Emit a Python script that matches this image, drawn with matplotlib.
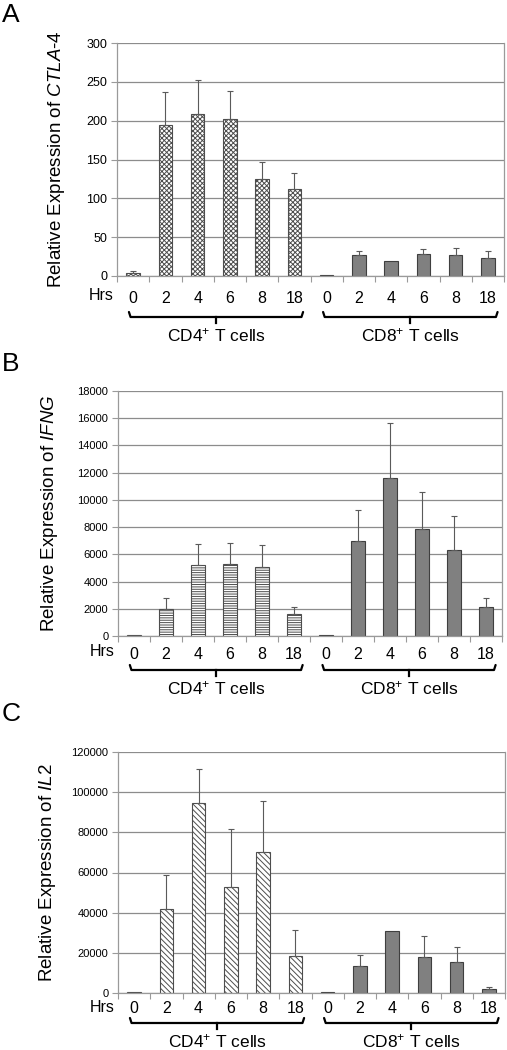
"""Time course of CTLA-4, IFNG and IL2 expression in CD4+ and CD8+ T cells."""

import numpy as np
import matplotlib
matplotlib.use("Agg")
import matplotlib.pyplot as plt
import matplotlib.transforms as mtransforms

plt.rcParams["font.family"] = ["Liberation Sans", "DejaVu Sans"]
plt.rcParams["mathtext.fontset"] = "custom"
plt.rcParams["mathtext.rm"] = "Liberation Sans"
plt.rcParams["mathtext.it"] = "Liberation Sans:italic"
plt.rcParams["hatch.linewidth"] = 0.7

HOURS = ["0", "2", "4", "6", "8", "18"]
GROUPS = ["CD4$^{+}$ T cells", "CD8$^{+}$ T cells"]

# panel A: CTLA-4
ctla4_cd4 = [4, 195, 208, 202, 125, 112]
ctla4_cd4_sd = [2, 42, 44, 36, 22, 21]
ctla4_cd8 = [1.3, 26.5, 19, 28, 26.5, 23]
ctla4_cd8_sd = [0, 6, 0, 7, 10, 9]

# panel B: IFNG
ifng_cd4 = [50, 1980, 5230, 5320, 5100, 1610]
ifng_cd4_sd = [0, 800, 1540, 1490, 1610, 490]
ifng_cd8 = [50, 6960, 11600, 7870, 6330, 2100]
ifng_cd8_sd = [0, 2300, 4030, 2690, 2470, 690]

# panel C: IL2
il2_cd4 = [400, 41800, 94800, 53000, 70000, 18200]
il2_cd4_sd = [0, 17000, 16500, 28500, 25500, 13000]
il2_cd8 = [300, 13600, 30700, 17900, 15200, 2000]
il2_cd8_sd = [0, 5400, 0, 10300, 7700, 1000]

PANELS = [
    ("A", "CTLA", "-4", ctla4_cd4, ctla4_cd4_sd, ctla4_cd8, ctla4_cd8_sd, 300, 50, "x" * 7),
    ("B", "IFNG", "", ifng_cd4, ifng_cd4_sd, ifng_cd8, ifng_cd8_sd, 18000, 2000, "-" * 7),
    ("C", "IL2", "", il2_cd4, il2_cd4_sd, il2_cd8, il2_cd8_sd, 120000, 20000, "\\" * 6),
]

# axes boxes in pixels (left, top, right, bottom) of a 507x1050 canvas
BOXES = [(117, 43, 504, 276), (118, 391, 502, 636), (118, 752, 505, 993)]
LETTER_Y = [3, 352, 702]
HRS_DY = [19, 16, 14]
BRACKET_DY = [41, 34, 30]
YLABEL_X = [67, 60, 58]
TICK_SIZE = [9, 8, 8]

W, H = 507, 1050
fig = plt.figure(figsize=(W / 100, H / 100), dpi=100)

GRID = "#8c8c8c"
EDGE = "#4d4d4d"

for i, (letter, gene, suffix, cd4, cd4_sd, cd8, cd8_sd, ymax, ystep, hatch) in enumerate(PANELS):
    l, t, r, b = BOXES[i]
    ax = fig.add_axes([l / W, 1 - b / H, (r - l) / W, (b - t) / H])
    ax_h = b - t

    x = np.arange(12)
    vals = np.array(cd4 + cd8, dtype=float)
    sds = np.array(cd4_sd + cd8_sd, dtype=float)

    ax.bar(x[:6], cd4, width=0.42, facecolor="white", edgecolor=EDGE,
           hatch=hatch, linewidth=0.8, zorder=2)
    ax.bar(x[6:], cd8, width=0.42, facecolor="#808080", edgecolor="#3f3f3f",
           linewidth=0.8, zorder=2)

    has_err = sds > 0
    ax.errorbar(x[has_err], vals[has_err],
                yerr=[np.zeros(has_err.sum()), sds[has_err]],
                fmt="none", ecolor="#5a5a5a", elinewidth=0.8, capsize=2.5,
                capthick=0.8, zorder=3)

    ax.set_xlim(-0.5, 11.5)
    ax.set_ylim(0, ymax)
    ax.set_yticks(np.arange(0, ymax + ystep / 2, ystep))
    ax.yaxis.grid(True, color=GRID, linewidth=0.9)
    ax.set_axisbelow(True)
    for s in ax.spines.values():
        s.set_color("#9a9a9a")
        s.set_linewidth(0.9)
    ax.spines["top"].set_visible(False)

    ax.tick_params(axis="y", direction="out", length=4, width=0.8,
                   color="#9a9a9a", labelsize=TICK_SIZE[i], pad=3)
    ax.set_xticks(np.arange(-0.5, 12, 1), minor=True)
    ax.set_xticks(x)
    ax.set_xticklabels(HOURS * 2, fontsize=11.5)
    ax.tick_params(axis="x", which="major", length=0, pad=HRS_DY[i] - 8)
    ax.tick_params(axis="x", which="minor", direction="out", length=4,
                   width=0.8, color="#9a9a9a")

    trans = mtransforms.blended_transform_factory(ax.transData, ax.transAxes)
    ax.text(-0.6, -HRS_DY[i] / ax_h, "Hrs", transform=trans, ha="right",
            va="center", fontsize=11.5, clip_on=False)

    # brackets under each group
    yb = -BRACKET_DY[i] / ax_h
    up = 5 / ax_h
    down = 6 / ax_h
    for g, (x0, x1) in enumerate([(-0.13, 5.27), (5.89, 11.3)]):
        xc = (x0 + x1) / 2
        ax.plot([x0, x0 + 0.05, x1 - 0.05, x1], [yb + up, yb, yb, yb + up],
                transform=trans, color="black", linewidth=1.6,
                solid_capstyle="round", clip_on=False)
        ax.plot([xc, xc], [yb, yb - down], transform=trans, color="black",
                linewidth=1.6, clip_on=False)
        ax.text(xc, yb - 18 / ax_h, GROUPS[g], transform=trans, ha="center",
                va="center", fontsize=12.5, clip_on=False)

    label = "Relative Expression of $\\mathit{" + gene + "}$"
    if suffix:
        label = "Relative Expression of $\\mathit{" + gene + "}$-$\\mathit{4}$"
    ax.set_ylabel(label, fontsize=13.5)
    ax.yaxis.set_label_coords((YLABEL_X[i] - l) / (r - l), 0.5)

    fig.text(2 / W, 1 - LETTER_Y[i] / H, letter, ha="left", va="top",
             fontsize=19)

fig.savefig("out.png", dpi=100)
